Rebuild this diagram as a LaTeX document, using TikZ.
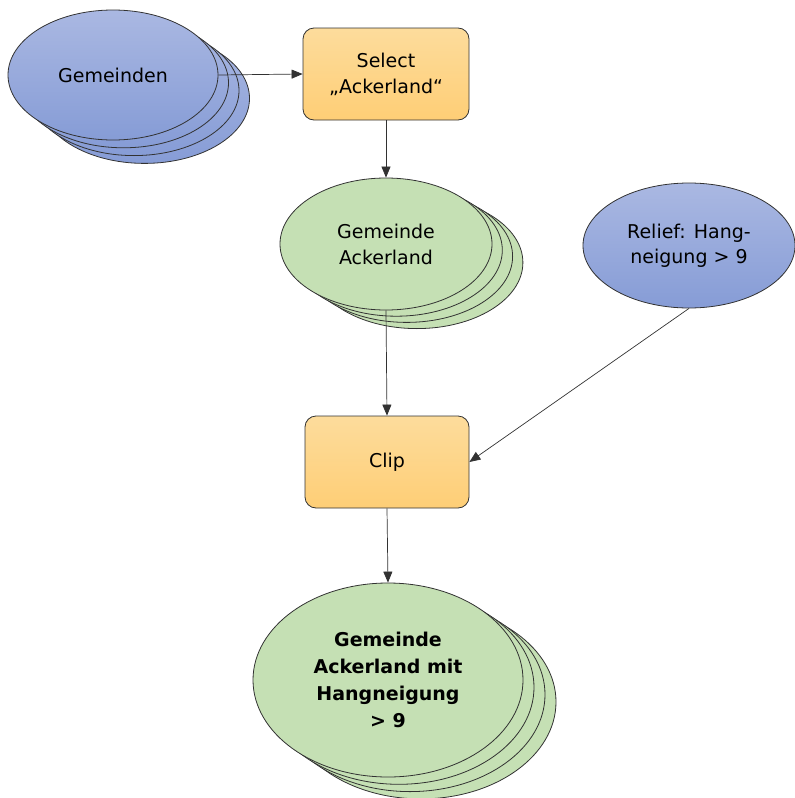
\documentclass[tikz,border=0pt]{standalone}
\usepackage{fontspec}
\setmainfont{DejaVu Sans}
\usetikzlibrary{shapes.geometric,arrows.meta}
\definecolor{bluetop}{RGB}{170,184,226}
\definecolor{bluebot}{RGB}{134,156,214}
\definecolor{orgtop}{RGB}{253,220,156}
\definecolor{orgbot}{RGB}{254,206,118}
\definecolor{greenfill}{RGB}{197,224,180}
\definecolor{edge}{RGB}{50,50,50}
\tikzset{
  blueell/.style={ellipse, draw=edge, line width=0.8pt, top color=bluetop, bottom color=bluebot, inner sep=0pt, align=center, font=\fontsize{19}{25}\selectfont},
  greenell/.style={ellipse, draw=edge, line width=0.8pt, fill=greenfill, inner sep=0pt, align=center, font=\fontsize{19}{26}\selectfont},
  procbox/.style={rectangle, rounded corners=11pt, draw=edge, line width=0.8pt, top color=orgtop, bottom color=orgbot, inner sep=0pt, align=center, font=\fontsize{19}{26}\selectfont},
  conn/.style={draw=edge, line width=0.7pt, -{Triangle[length=11pt,width=9pt]}}
}
\begin{document}
\begin{tikzpicture}[x=1pt,y=-1pt]
\useasboundingbox (0,0) rectangle (795,798);
% Gemeinden stack
\foreach \k/\n in {3/g3,2/g2,1/g1}{
  \node[blueell, minimum width=210pt, minimum height=130pt] (\n) at (113+10.5*\k,75+7.8*\k) {};
}
\node[blueell, minimum width=210pt, minimum height=130pt] (gem) at (113,75) {Gemeinden};
% Select
\node[procbox, minimum width=166pt, minimum height=92pt] (sel) at (386,74) {Select\\„Ackerland“};
% Gemeinde Ackerland stack
\foreach \k/\n in {3/a3,2/a2,1/a1}{
  \node[greenell, minimum width=212pt, minimum height=132pt] (\n) at (386+10.3*\k,244+6.2*\k) {};
}
\node[greenell, minimum width=212pt, minimum height=132pt] (ack) at (386,244) {Gemeinde\\Ackerland};
% Relief
\node[blueell, minimum width=212pt, minimum height=125pt] (rel) at (689,245.5) {Relief: Hang-\\neigung > 9};
% Clip
\node[procbox, minimum width=164pt, minimum height=92pt] (clip) at (387,462) {Clip};
% Final stack
\foreach \k/\n in {3/f3,2/f2,1/f1}{
  \node[greenell, minimum width=270pt, minimum height=194pt] (\n) at (388+11*\k,680+7.3*\k) {};
}
\node[greenell, minimum width=270pt, minimum height=194pt, font=\bfseries\fontsize{19}{27}\selectfont] (fin) at (388,680) {Gemeinde\\Ackerland mit\\Hangneigung\\> 9};
% connectors
\draw[conn] (gem.east) -- (sel.west);
\draw[conn] (sel.south) -- (ack.north);
\draw[conn] (ack.south) -- (clip.north);
\draw[conn] (rel.south) -- (clip.east);
\draw[conn] (clip.south) -- (fin.north);
\end{tikzpicture}
\end{document}
